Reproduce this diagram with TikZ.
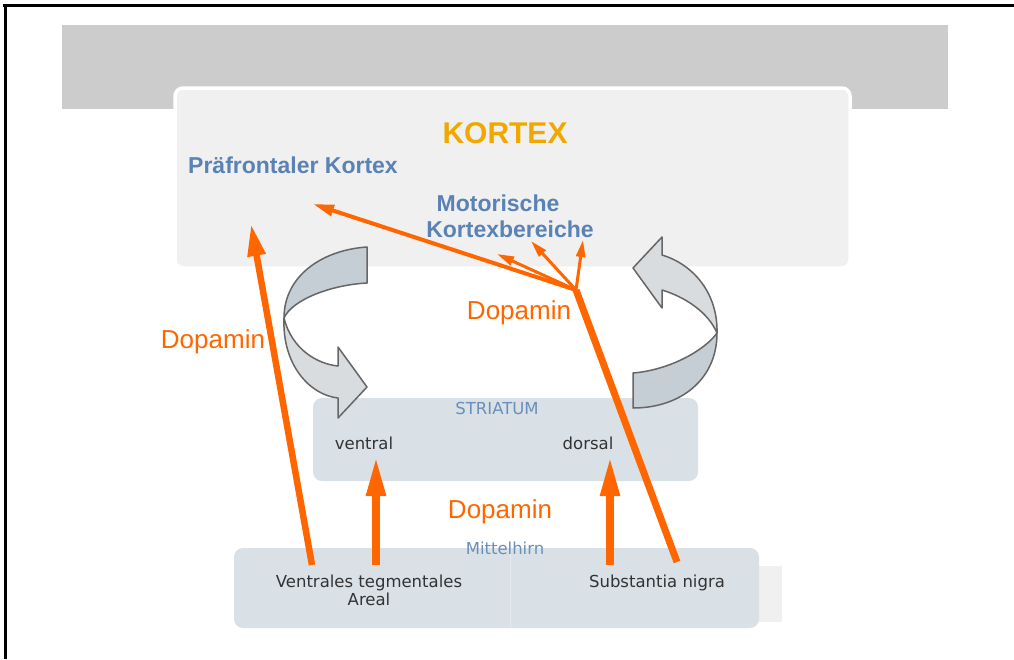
\documentclass[tikz,border=0pt]{standalone}
\usepackage{fontspec}
\setmainfont{Liberation Sans}
\newfontfamily\smallfont{DejaVu Sans}
\usetikzlibrary{arrows.meta}
\definecolor{dorange}{HTML}{FF6600}
\definecolor{kgold}{HTML}{F0A800}
\definecolor{kblue}{HTML}{5A82B4}
\definecolor{sblue}{HTML}{6A8FBA}
\definecolor{bandgray}{HTML}{CCCCCC}
\definecolor{kfill}{HTML}{F0F0F0}
\definecolor{boxfill}{HTML}{D9E0E6}
\definecolor{ribbonlight}{HTML}{D8DCDF}
\definecolor{ribbondark}{HTML}{C5CDD5}
\definecolor{ribbonline}{HTML}{666666}
\definecolor{txtgray}{HTML}{333333}
\tikzset{
  region/.style={fill=boxfill, draw=none, rounded corners=9pt},
  ribbonA/.style={fill=ribbondark, draw=ribbonline, line width=1.5pt, line join=round},
  ribbonB/.style={fill=ribbonlight, draw=ribbonline, line width=1.5pt, line join=round},
  bigtitle/.style={font=\bfseries\fontsize{30}{34}\selectfont, text=kgold, inner sep=0pt},
  areatitle/.style={font=\bfseries\fontsize{23}{27}\selectfont, text=kblue, inner sep=0pt},
  dopa/.style={font=\fontsize{26}{30}\selectfont, text=dorange, inner sep=0pt},
  smalllabel/.style={font=\smallfont\fontsize{16.5}{20}\selectfont, text=sblue, inner sep=0pt},
  partlabel/.style={font=\smallfont\fontsize{16.5}{20}\selectfont, text=txtgray, inner sep=0pt, align=center},
  thickpath/.style={draw=dorange, line width=7pt},
  longarrow/.style={draw=dorange, line width=6.5pt, -{Triangle[length=32pt,width=17pt]}},
  uparrow/.style={draw=dorange, line width=8pt, -{Triangle[length=40pt,width=18pt]}},
  branch/.style={draw=dorange, line width=3pt, -{Triangle[length=17pt,width=9pt]}},
  mainbranch/.style={draw=dorange, line width=4pt, -{Triangle[length=21pt,width=11pt]}},
}
\begin{document}
\begin{tikzpicture}[x=1pt,y=-1pt]
\useasboundingbox (0,0) rectangle (1014,659);
\fill[white] (0,0) rectangle (1014,659);
% frame
\draw[line width=2.5pt] (3,5.5) -- (1014,5.5);
\draw[line width=2.5pt] (5.5,4.5) -- (5.5,659);
% gray band and cortex box
\fill[bandgray] (62,25) rectangle (948,109);
\draw[fill=kfill, draw=white, line width=3.5pt, rounded corners=8pt] (175,88) rectangle (850,268);
% striatum and midbrain
\fill[region] (313,398) rectangle (698,481);
\fill[kfill] (512,566) rectangle (782,622);
\fill[region] (234,548) rectangle (759,628);
\draw[white, line width=1pt, opacity=0.35] (510,550) -- (510,627);
% left curved arrow
\path[ribbonA] (367,247) .. controls (322,250) and (284,276) .. (284,318)
  .. controls (292,300) and (330,285) .. (367,283) -- cycle;
\path[ribbonB] (284,318) .. controls (282,365) and (310,395) .. (338,398)
  -- (338,418) -- (367,387) -- (338,347) -- (338,366)
  .. controls (318,364) and (292,350) .. (284,318) -- cycle;
% right curved arrow
\path[ribbonA] (633,408) .. controls (680,408) and (717,380) .. (717,333)
  .. controls (705,350) and (670,370) .. (633,373) -- cycle;
\path[ribbonB] (717,333) .. controls (718,295) and (695,265) .. (662,255)
  -- (662,237) -- (633,268) -- (662,308) -- (662,290)
  .. controls (685,297) and (708,312) .. (717,333) -- cycle;
% texts
\node[bigtitle] (kortex) at (505,133) {KORTEX};
\node[areatitle, anchor=west] (pfc) at (188,165) {Präfrontaler Kortex};
\node[areatitle] (mot1) at (498,203) {Motorische};
\node[areatitle] (mot2) at (510,229) {Kortexbereiche};
\node[smalllabel] (striatum) at (497,408) {STRIATUM};
\node[partlabel] (ventral) at (364,443) {ventral};
\node[partlabel] (dorsal) at (588,443) {dorsal};
\node[smalllabel] (mittel) at (505,548) {Mittelhirn};
\node[partlabel] (vta) at (369,590) {Ventrales tegmentales\\[-2pt]Areal};
\node[partlabel] (sn) at (657,583) {Substantia nigra};
% arrow anchor points
\coordinate (vtaL) at (312,565);
\coordinate (vtaR) at (376,565);
\coordinate (snL) at (610,565);
\coordinate (snR) at (677,562);
\coordinate (pfcT) at (251,224);
\coordinate (ventT) at (376,456);
\coordinate (dorsT) at (610,456);
\coordinate (hub) at (576,290);
\coordinate (pfcB) at (313,204);
\coordinate (motA) at (497,254);
\coordinate (motB) at (531,241);
\coordinate (motC) at (583,240);
% orange dopamine pathways
\draw[longarrow] (vtaL) -- (pfcT);
\draw[uparrow] (vtaR) -- (ventT);
\draw[uparrow] (snL) -- (dorsT);
\draw[thickpath, line cap=butt] (snR) -- (hub);
\draw[mainbranch] (hub) -- (pfcB);
\draw[branch] (hub) -- (motA);
\draw[branch] (hub) -- (motB);
\draw[branch] (hub) -- (motC);
% Dopamin labels
\node[dopa] (d1) at (213,342) {Dopamin};
\node[dopa] (d2) at (519,313) {Dopamin};
\node[dopa] (d3) at (500,512) {Dopamin};
\end{tikzpicture}
\end{document}
